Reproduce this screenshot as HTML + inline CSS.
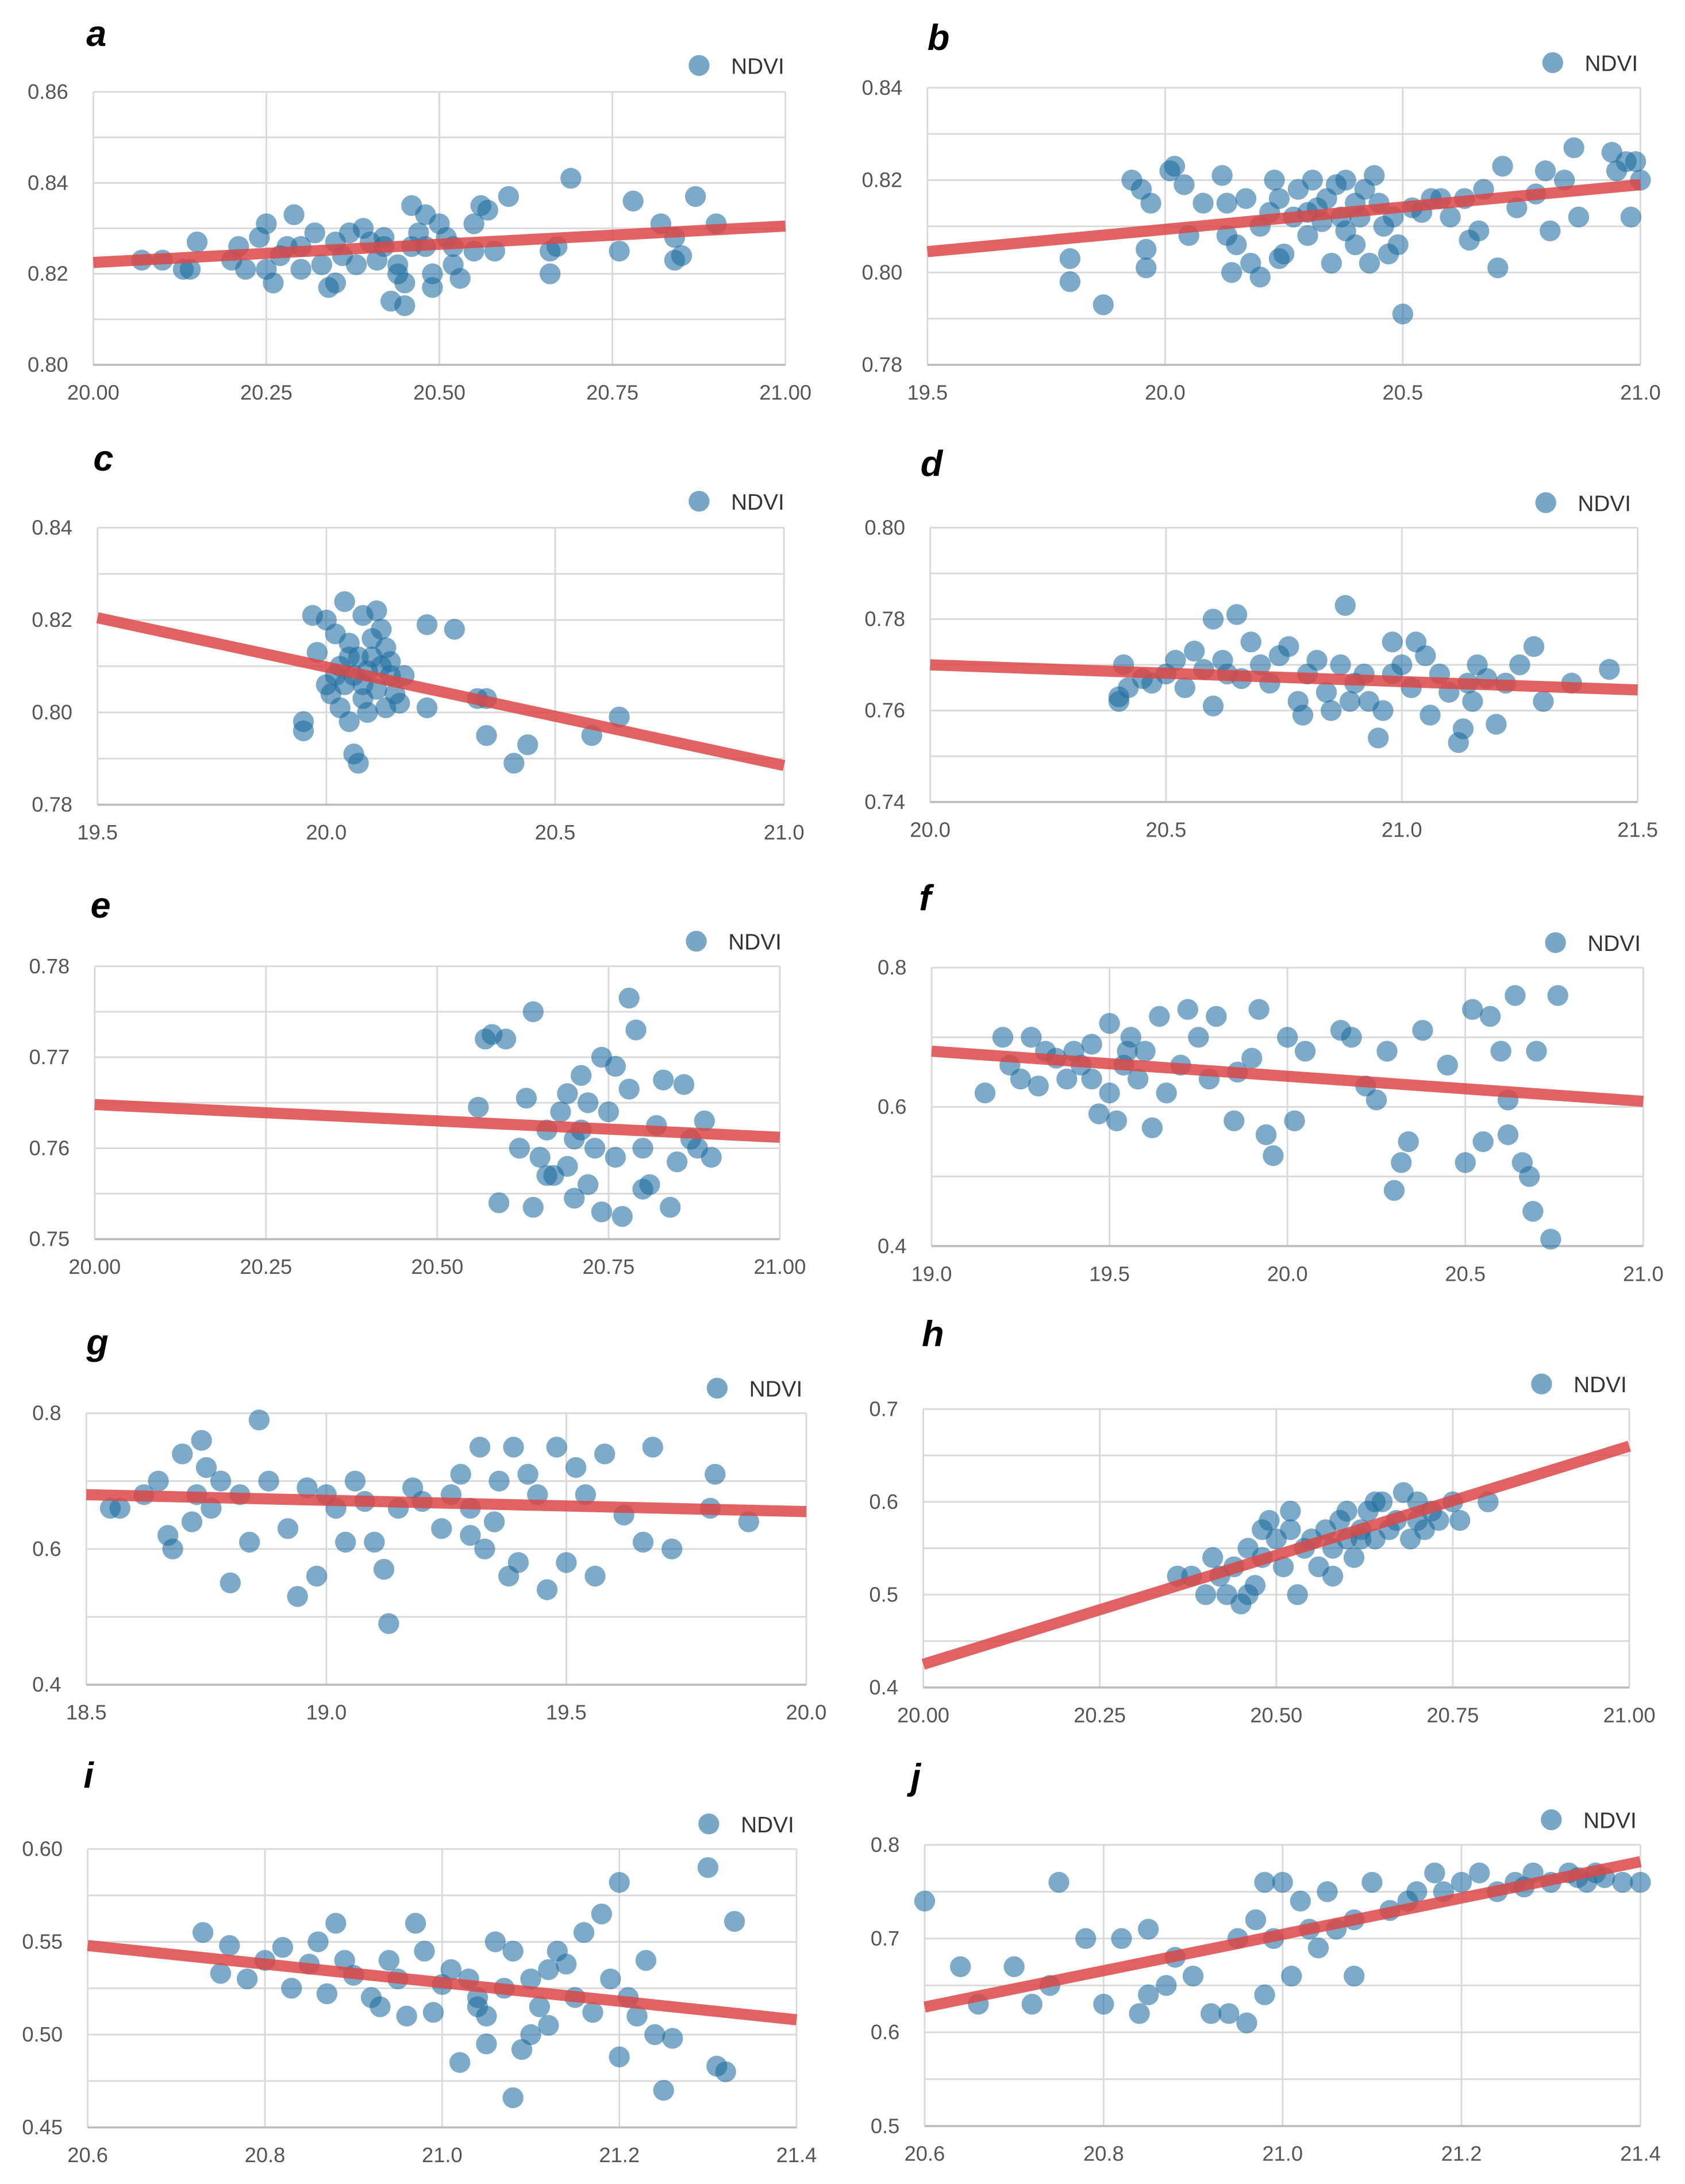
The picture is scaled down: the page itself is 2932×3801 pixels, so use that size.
<!DOCTYPE html>
<html><head><meta charset="utf-8"><style>
html,body{margin:0;padding:0;background:#fff;}
svg{display:block;}
</style></head><body>
<svg id="fig" xmlns="http://www.w3.org/2000/svg" width="2932" height="3801" viewBox="0 0 1210 1568.6" font-family="Liberation Sans, Arial, sans-serif"></svg>
<script>
// ---- data ----
const aX=[20.07,20.10,20.13,20.14,20.15,20.20,20.21,20.22,20.24,20.25,20.25,20.26,20.28,20.29,20.30,20.32,20.33,20.34,20.35,20.35,20.37,20.38,20.39,20.40,20.41,20.42,20.43,20.44,20.45,20.45,20.46,20.46,20.47,20.48,20.49,20.49,20.50,20.51,20.52,20.53,20.55,20.55,20.56,20.57,20.58,20.60,20.66,20.66,20.67,20.69,20.76,20.78,20.82,20.84,20.84,20.85,20.87,20.90,20.30,20.36,20.42,20.48,20.52,20.27,20.44];
const aY=[.823,.823,.821,.821,.827,.823,.826,.821,.828,.831,.821,.818,.826,.833,.821,.829,.822,.817,.818,.827,.829,.822,.830,.827,.823,.828,.814,.820,.818,.813,.835,.826,.829,.833,.820,.817,.831,.828,.826,.819,.825,.831,.835,.834,.825,.837,.820,.825,.826,.841,.825,.836,.831,.828,.823,.824,.837,.831,.826,.824,.826,.826,.822,.824,.822];
const bX=[19.80,19.80,19.87,19.93,19.95,19.96,19.96,19.97,20.01,20.02,20.04,20.05,20.08,20.12,20.13,20.13,20.14,20.15,20.17,20.18,20.20,20.20,20.22,20.23,20.24,20.24,20.25,20.27,20.28,20.30,20.31,20.32,20.33,20.34,20.35,20.36,20.37,20.38,20.40,20.40,20.41,20.42,20.43,20.44,20.45,20.46,20.47,20.48,20.49,20.50,20.52,20.54,20.56,20.58,20.60,20.63,20.64,20.66,20.67,20.70,20.71,20.74,20.78,20.80,20.81,20.84,20.86,20.87,20.94,20.95,20.97,20.98,20.99,21.00,20.38,20.30];
const bY=[.798,.803,.793,.820,.818,.805,.801,.815,.822,.823,.819,.808,.815,.821,.815,.808,.800,.806,.816,.802,.799,.810,.813,.820,.816,.803,.804,.812,.818,.808,.820,.814,.811,.816,.802,.819,.812,.820,.815,.806,.812,.818,.802,.821,.815,.810,.804,.812,.806,.791,.814,.813,.816,.816,.812,.816,.807,.809,.818,.801,.823,.814,.817,.822,.809,.820,.827,.812,.826,.822,.824,.812,.824,.820,.809,.813];
const cX=[19.95,19.95,19.97,19.98,20.00,20.01,20.02,20.03,20.03,20.04,20.04,20.05,20.05,20.06,20.07,20.06,20.07,20.08,20.08,20.09,20.09,20.10,20.10,20.11,20.11,20.12,20.13,20.13,20.14,20.15,20.16,20.17,20.22,20.22,20.28,20.33,20.35,20.35,20.41,20.44,20.58,20.64,20.02,20.05,20.12,20.08,20.00,20.14];
const cY=[.798,.796,.821,.813,.820,.804,.817,.810,.801,.824,.806,.815,.798,.791,.789,.808,.812,.803,.821,.809,.800,.816,.812,.822,.805,.810,.814,.801,.808,.804,.802,.808,.819,.801,.818,.803,.803,.795,.789,.793,.795,.799,.808,.812,.818,.806,.806,.811];
const dX=[20.40,20.41,20.42,20.45,20.47,20.50,20.52,20.54,20.56,20.58,20.60,20.60,20.62,20.63,20.65,20.66,20.68,20.70,20.72,20.74,20.76,20.78,20.79,20.80,20.82,20.84,20.85,20.87,20.88,20.89,20.90,20.92,20.93,20.95,20.96,20.98,21.00,21.02,21.03,21.05,21.06,21.08,21.10,21.12,21.13,21.14,21.16,21.18,21.20,21.22,21.25,21.28,21.30,21.36,21.44,20.40,20.98,21.15];
const dY=[.762,.770,.765,.767,.766,.768,.771,.765,.773,.769,.780,.761,.771,.768,.781,.767,.775,.770,.766,.772,.774,.762,.759,.768,.771,.764,.760,.770,.783,.762,.766,.768,.762,.754,.760,.775,.770,.765,.775,.772,.759,.768,.764,.753,.756,.766,.770,.767,.757,.766,.770,.774,.762,.766,.769,.763,.768,.762];
const eX=[20.56,20.57,20.58,20.59,20.60,20.62,20.63,20.64,20.64,20.65,20.66,20.67,20.68,20.69,20.69,20.70,20.71,20.71,20.72,20.73,20.74,20.74,20.75,20.76,20.77,20.78,20.78,20.79,20.80,20.80,20.81,20.82,20.83,20.84,20.85,20.86,20.87,20.88,20.89,20.90,20.72,20.66,20.76,20.70];
const eY=[.7645,.772,.7725,.754,.772,.760,.7655,.7535,.775,.759,.762,.757,.764,.766,.758,.7545,.762,.768,.756,.760,.753,.770,.764,.769,.7525,.7765,.7665,.773,.760,.7555,.756,.7625,.7675,.7535,.7585,.767,.761,.760,.763,.759,.765,.757,.759,.761];
const fX=[19.15,19.2,19.22,19.25,19.28,19.3,19.32,19.35,19.38,19.40,19.42,19.45,19.47,19.50,19.50,19.52,19.54,19.56,19.58,19.60,19.62,19.64,19.66,19.70,19.72,19.75,19.78,19.80,19.85,19.86,19.90,19.92,19.94,19.96,20.00,20.02,20.05,20.15,20.18,20.22,20.25,20.28,20.30,20.32,20.34,20.38,20.45,20.50,20.52,20.55,20.57,20.60,20.62,20.64,20.66,20.68,20.69,20.70,20.74,20.76,19.45,19.55,20.62];
const fY=[.62,.70,.66,.64,.70,.63,.68,.67,.64,.68,.66,.69,.59,.72,.62,.58,.66,.70,.64,.68,.57,.73,.62,.66,.74,.70,.64,.73,.58,.65,.67,.74,.56,.53,.70,.58,.68,.71,.70,.63,.61,.68,.48,.52,.55,.71,.66,.52,.74,.55,.73,.68,.61,.76,.52,.50,.45,.68,.41,.76,.64,.68,.56];
const gX=[18.57,18.62,18.65,18.67,18.68,18.70,18.72,18.73,18.74,18.75,18.76,18.78,18.80,18.82,18.84,18.86,18.88,18.92,18.94,18.96,18.98,19.00,19.02,19.04,19.06,19.08,19.10,19.12,19.13,19.15,19.18,19.20,19.24,19.26,19.28,19.30,19.32,19.33,19.35,19.36,19.38,19.39,19.40,19.42,19.44,19.46,19.48,19.50,19.52,19.54,19.56,19.58,19.62,19.66,19.68,19.72,19.80,19.81,19.88,18.55,19.30];
const gY=[.66,.68,.70,.62,.60,.74,.64,.68,.76,.72,.66,.70,.55,.68,.61,.79,.70,.63,.53,.69,.56,.68,.66,.61,.70,.67,.61,.57,.49,.66,.69,.67,.63,.68,.71,.66,.75,.60,.64,.70,.56,.75,.58,.71,.68,.54,.75,.58,.72,.68,.56,.74,.65,.61,.75,.60,.66,.71,.64,.66,.62];
const hX=[20.36,20.38,20.40,20.41,20.42,20.43,20.44,20.45,20.46,20.47,20.48,20.49,20.50,20.51,20.52,20.53,20.54,20.55,20.56,20.57,20.58,20.59,20.60,20.61,20.62,20.63,20.64,20.65,20.66,20.67,20.68,20.69,20.70,20.71,20.72,20.73,20.75,20.76,20.80,20.46,20.52,20.60,20.64,20.70,20.58,20.48,20.62];
const hY=[.52,.52,.50,.54,.52,.50,.53,.49,.55,.51,.54,.58,.56,.53,.57,.50,.55,.56,.53,.57,.55,.58,.56,.54,.57,.59,.56,.60,.57,.58,.61,.56,.60,.57,.59,.58,.60,.58,.60,.50,.59,.59,.60,.58,.52,.57,.56];
const iX=[20.73,20.75,20.76,20.78,20.80,20.82,20.83,20.85,20.86,20.87,20.88,20.89,20.90,20.92,20.93,20.94,20.96,20.97,20.98,20.99,21.00,21.01,21.02,21.03,21.04,21.05,21.05,21.06,21.07,21.08,21.08,21.09,21.10,21.11,21.12,21.13,21.14,21.15,21.16,21.17,21.18,21.19,21.20,21.20,21.21,21.22,21.23,21.24,21.25,21.26,21.30,21.31,21.32,21.33,21.12,21.04,20.95,21.10];
const iY=[.555,.533,.548,.530,.540,.547,.525,.538,.550,.522,.560,.540,.532,.520,.515,.540,.510,.560,.545,.512,.527,.535,.485,.530,.520,.510,.495,.550,.525,.545,.466,.492,.530,.515,.505,.545,.538,.520,.555,.512,.565,.530,.582,.488,.520,.510,.540,.500,.470,.498,.590,.483,.480,.561,.535,.515,.530,.500];
const jX=[20.60,20.64,20.66,20.70,20.72,20.74,20.75,20.78,20.80,20.82,20.84,20.85,20.85,20.87,20.88,20.90,20.92,20.94,20.95,20.96,20.97,20.98,20.98,21.00,21.01,21.02,21.03,21.04,21.05,21.06,21.08,21.08,21.10,21.12,21.15,21.17,21.18,21.20,21.22,21.24,21.26,21.28,21.30,21.32,21.33,21.34,21.35,21.36,21.38,21.40,21.14,21.27,20.99];
const jY=[.74,.67,.63,.67,.63,.65,.76,.70,.63,.70,.62,.71,.64,.65,.68,.66,.62,.62,.70,.61,.72,.76,.64,.76,.66,.74,.71,.69,.75,.71,.66,.72,.76,.73,.75,.77,.75,.76,.77,.75,.76,.77,.76,.77,.765,.76,.77,.765,.76,.76,.74,.755,.70];
// regression endpoints [y at xmin, y at xmax]
const aFit=[.8225,.8305], bFit=[.8045,.819], cFit=[.8205,.7885], dFit=[.770,.7645], eFit=[.7648,.7612];
const fFit=[.68,.608], gFit=[.68,.655], hFit=[.425,.66], iFit=[.548,.508], jFit=[.627,.782];
const aXT=["20.00","20.25","20.50","20.75","21.00"], aYT=["0.80","0.82","0.84","0.86"];
const bXT=["19.5","20.0","20.5","21.0"], bYT=["0.78","0.80","0.82","0.84"];
const cXT=["19.5","20.0","20.5","21.0"], cYT=["0.78","0.80","0.82","0.84"];
const dXT=["20.0","20.5","21.0","21.5"], dYT=["0.74","0.76","0.78","0.80"];
const eXT=["20.00","20.25","20.50","20.75","21.00"], eYT=["0.75","0.76","0.77","0.78"];
const fXT=["19.0","19.5","20.0","20.5","21.0"], fYT=["0.4","0.6","0.8"];
const gXT=["18.5","19.0","19.5","20.0"], gYT=["0.4","0.6","0.8"];
const hXT=["20.00","20.25","20.50","20.75","21.00"], hYT=["0.4","0.5","0.6","0.7"];
const iXT=["20.6","20.8","21.0","21.2","21.4"], iYT=["0.45","0.50","0.55","0.60"];
const jXT=["20.6","20.8","21.0","21.2","21.4"], jYT=["0.5","0.6","0.7","0.8"];

const panels=[
 {id:'a',xs:aX,ys:aY,fit:aFit,xt:aXT,yt:aYT,L:67,R:564,T:66,B:262,lab:[62,33],leg:[502,47]},
 {id:'b',xs:bX,ys:bY,fit:bFit,xt:bXT,yt:bYT,L:666,R:1178,T:63,B:262,lab:[666,36],leg:[1115,45]},
 {id:'c',xs:cX,ys:cY,fit:cFit,xt:cXT,yt:cYT,L:70,R:563,T:379,B:578,lab:[67,338],leg:[502,360]},
 {id:'d',xs:dX,ys:dY,fit:dFit,xt:dXT,yt:dYT,L:668,R:1176,T:379,B:576,lab:[661,342],leg:[1110,361]},
 {id:'e',xs:eX,ys:eY,fit:eFit,xt:eXT,yt:eYT,L:68,R:560,T:694,B:890,lab:[65,659],leg:[500,676]},
 {id:'f',xs:fX,ys:fY,fit:fFit,xt:fXT,yt:fYT,L:669,R:1180,T:695,B:895,lab:[660,654],leg:[1117,677]},
 {id:'g',xs:gX,ys:gY,fit:gFit,xt:gXT,yt:gYT,L:62,R:579,T:1015,B:1210,lab:[62,973],leg:[515,997]},
 {id:'h',xs:hX,ys:hY,fit:hFit,xt:hXT,yt:hYT,L:663,R:1170,T:1012,B:1212,lab:[662,967],leg:[1107,994]},
 {id:'i',xs:iX,ys:iY,fit:iFit,xt:iXT,yt:iYT,L:63,R:572,T:1328,B:1528,lab:[60,1284],leg:[509,1310]},
 {id:'j',xs:jX,ys:jY,fit:jFit,xt:jXT,yt:jYT,L:664,R:1178,T:1325,B:1527,lab:[654,1285],leg:[1114,1307]}
];
const NS='http://www.w3.org/2000/svg';
const svg=document.getElementById('fig');
function mk(tag,attrs,parent){const e=document.createElementNS(NS,tag);for(const k in attrs)e.setAttribute(k,attrs[k]);parent.appendChild(e);return e;}
panels.forEach(p=>{
 const g=mk('g',{},svg);
 
 
 const x0=+p.xt[0],x1=+p.xt[p.xt.length-1],y0=+p.yt[0],y1=+p.yt[p.yt.length-1];
 const sx=v=>p.L+(v-x0)/(x1-x0)*(p.R-p.L);
 const sy=v=>p.B-(v-y0)/(y1-y0)*(p.B-p.T);
 // horizontal grid incl. half-steps
 const n=p.yt.length-1;
 for(let k=0;k<=2*n;k++){const yy=p.B-k/(2*n)*(p.B-p.T);
  const l=mk('line',{x1:p.L,x2:p.R,y1:yy,y2:yy,stroke:'#d9d9d9','stroke-width':1.2},g);
  
  }
 p.xt.forEach(t=>{const xx=sx(+t);
  const l=mk('line',{x1:xx,x2:xx,y1:p.T,y2:p.B,stroke:'#d9d9d9','stroke-width':1.2},g);
  
  
  const tx=mk('text',{x:xx,y:p.B+25,'text-anchor':'middle','font-size':15,fill:'#555'},g);
  tx.textContent=t;
  
  });
 p.yt.forEach(t=>{const yy=sy(+t);
  const tx=mk('text',{x:p.L-18,y:yy+5,'text-anchor':'end','font-size':15,fill:'#555'},g);
  tx.textContent=t;
  
  });
 const ax=mk('line',{x1:p.L,x2:p.R,y1:p.B,y2:p.B,stroke:'#bbb','stroke-width':1.5},g);
 
 
 p.xs.forEach((v,i)=>{
  const c=mk('circle',{cx:sx(v),cy:sy(p.ys[i]),r:7.5,fill:'rgba(30,108,160,0.58)'},g);
  
  });
 const fl=mk('line',{x1:sx(x0),y1:sy(p.fit[0]),x2:sx(x1),y2:sy(p.fit[1]),stroke:'rgba(220,70,70,0.85)','stroke-width':8},g);
 
 
 const lab=mk('text',{x:p.lab[0],y:p.lab[1],'font-size':26,'font-weight':'bold','font-style':'italic',fill:'#000'},g);
 lab.textContent=p.id;
 
 
 const ld=mk('circle',{cx:p.leg[0],cy:p.leg[1],r:7.5,fill:'rgba(30,108,160,0.6)'},g);
 
 
 const lt=mk('text',{x:p.leg[0]+23,y:p.leg[1]+6,'font-size':16,fill:'#333'},g);
 lt.textContent='NDVI';
 
 
});
</script>
</body></html>
